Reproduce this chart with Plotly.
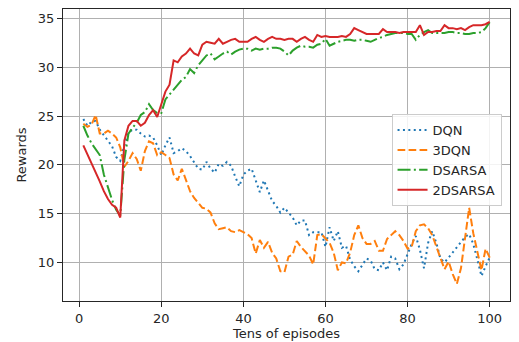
import plotly.graph_objects as go

episodes = list(range(1, 101))

dqn = [24.7, 24.0, 24.4, 24.5, 23.6, 23.0, 22.5, 21.9, 20.8, 20.4,
       22.0, 23.3, 23.6, 23.6, 23.2, 22.9, 23.0, 22.8, 22.0, 21.0,
       22.0, 22.8, 21.2, 21.4, 21.7, 21.4, 20.9, 20.3, 19.6, 19.5,
       20.3, 19.6, 19.2, 20.1, 19.9, 20.3, 19.9, 18.8, 17.8, 19.0,
       19.4, 19.6, 18.3, 17.2, 18.4, 17.4, 16.3, 15.8, 15.1, 15.6,
       15.1, 14.6, 13.8, 14.3, 14.3, 12.8, 13.1, 13.1, 13.1, 11.6,
       13.6, 12.2, 13.2, 11.5, 11.7, 10.3, 9.6, 9.1, 9.8, 10.4,
       10.2, 9.3, 9.2, 10.0, 9.2, 10.6, 10.4, 9.3, 9.8, 10.8,
       11.9, 12.7, 11.3, 9.4, 12.0, 13.2, 12.0, 10.4, 10.0, 10.5,
       11.0, 11.6, 12.1, 12.6, 12.9, 11.9, 10.3, 8.6, 9.6, 10.5]

dqn3 = [24.2, 23.9, 24.1, 25.1, 23.2, 23.2, 23.5, 23.2, 22.8, 21.8,
        19.8, 20.4, 21.2, 20.6, 19.4, 21.4, 22.4, 22.2, 21.0, 21.3,
        21.0, 20.7, 19.0, 18.4, 19.6, 18.5, 17.3, 16.6, 16.1, 15.6,
        15.5, 15.1, 14.0, 13.4, 13.5, 13.6, 13.2, 13.1, 13.3, 13.1,
        12.9, 12.5, 10.9, 12.3, 11.5, 12.1, 11.0, 10.4, 9.1, 9.0,
        10.6, 10.8, 12.2, 11.6, 11.1, 10.7, 9.8, 12.8, 12.9, 12.5,
        12.0, 11.0, 9.2, 10.0, 9.9, 11.0, 12.8, 13.8, 12.5, 11.9,
        11.9, 12.2, 11.2, 11.2, 12.4, 12.8, 13.2, 12.8, 12.2, 11.4,
        11.6, 13.2, 13.8, 13.9, 13.5, 12.8, 11.6, 10.3, 9.3, 10.1,
        8.8, 7.8, 9.4, 12.5, 15.6, 13.0, 11.2, 9.2, 11.4, 10.5]

dsarsa = [24.0, 23.0, 22.2, 21.6, 21.0, 19.0, 17.6, 16.4, 15.4, 14.8,
          20.5, 23.2, 23.8, 24.3, 25.1, 25.4, 26.2, 25.6, 25.3, 25.3,
          26.7, 27.2, 27.7, 28.2, 28.7, 29.0, 29.8, 29.4, 30.2, 30.7,
          31.2, 31.4, 30.8, 31.1, 31.4, 31.6, 31.3, 31.6, 31.8, 31.9,
          31.9, 31.7, 31.9, 31.8, 31.9, 31.9, 32.0, 32.0, 31.9, 31.6,
          31.2, 31.7, 32.0, 32.2, 32.1, 32.1, 32.0, 32.3, 32.4, 32.9,
          32.2, 32.4, 32.6, 32.7, 32.8, 32.8, 32.7, 32.8, 32.8, 32.7,
          32.6, 32.8, 33.0, 33.1, 33.3, 33.4, 33.5, 33.5, 33.5, 33.4,
          33.4, 32.8, 33.3, 33.6, 33.8, 33.5, 33.5, 33.5, 33.5, 33.6,
          33.6, 33.5, 33.5, 33.4, 33.4, 33.5, 33.5, 33.6, 34.0, 34.6]

dsarsa2 = [22.0, 21.1, 20.2, 19.3, 18.3, 17.3, 16.5, 15.9, 15.6, 14.6,
           22.5, 24.0, 24.5, 24.5, 24.0, 24.3, 25.1, 25.6, 24.9, 26.2,
           27.5, 28.2, 30.7, 30.5, 31.1, 31.4, 31.9, 31.4, 31.2, 32.3,
           32.6, 32.5, 32.4, 32.9, 32.4, 32.6, 32.8, 32.9, 32.6, 32.6,
           32.6, 32.9, 33.1, 32.8, 32.6, 32.9, 33.1, 32.9, 32.9, 32.8,
           32.9, 32.9, 32.6, 32.9, 33.1, 32.8, 32.6, 33.3, 33.1, 33.2,
           33.1, 33.1, 33.1, 33.2, 33.1, 33.4, 34.0, 33.8, 33.6, 33.4,
           33.4, 33.4, 33.4, 33.9, 33.6, 33.6, 33.6, 33.5, 33.6, 33.6,
           33.6, 33.6, 34.3, 33.3, 33.6, 33.6, 33.7, 33.7, 34.3, 34.0,
           34.0, 33.9, 34.0, 33.8, 34.1, 34.3, 34.3, 34.3, 34.4, 34.65]

series_names = ["DQN", "3DQN", "DSARSA", "2DSARSA"]
series_values = [dqn, dqn3, dsarsa, dsarsa2]
colors = ["#1f77b4", "#ff7f0e", "#2ca02c", "#d62728"]
dashes = ["2px,3.4px", "7.7px,3.3px", "13px,3.3px,2px,3.3px", "solid"]

x_ticks = [0, 20, 40, 60, 80, 100]
y_ticks = [10, 15, 20, 25, 30, 35]

fig = go.Figure()
for name, vals, c, d in zip(series_names, series_values, colors, dashes):
    fig.add_trace(go.Scatter(x=episodes, y=vals, mode="lines", name=name,
                             line=dict(color=c, width=2, dash=d)))

font = dict(family="DejaVu Sans", size=13, color="#262626")
axis_common = dict(showgrid=True, gridcolor="#b0b0b0", gridwidth=1,
                   showline=True, linecolor="#262626", linewidth=1, mirror=True,
                   ticks="outside", ticklen=5, tickcolor="#262626", tickwidth=1,
                   zeroline=False, tickfont=font, automargin=False)

fig.update_layout(
    width=519, height=342,
    margin=dict(l=63, r=9, t=9, b=41),
    paper_bgcolor="white", plot_bgcolor="white",
    font=font,
    showlegend=True,
    legend=dict(x=0.735, y=0.64, xanchor="left", yanchor="top",
                bgcolor="rgba(255,255,255,0.85)", bordercolor="#cccccc",
                borderwidth=1, font=dict(family="DejaVu Sans", size=13, color="#262626"),
                tracegroupgap=0),
)
fig.update_xaxes(range=[-3.95, 104.95], tickvals=x_ticks,
                 title=dict(text="Tens of episodes", font=font, standoff=4),
                 **axis_common)
fig.update_yaxes(range=[6.05, 35.96], tickvals=y_ticks,
                 title=dict(text="Rewards", font=font, standoff=8),
                 **axis_common)

fig.write_html("out.html", config={"displayModeBar": False},
               post_script="document.body.style.margin='0';")
